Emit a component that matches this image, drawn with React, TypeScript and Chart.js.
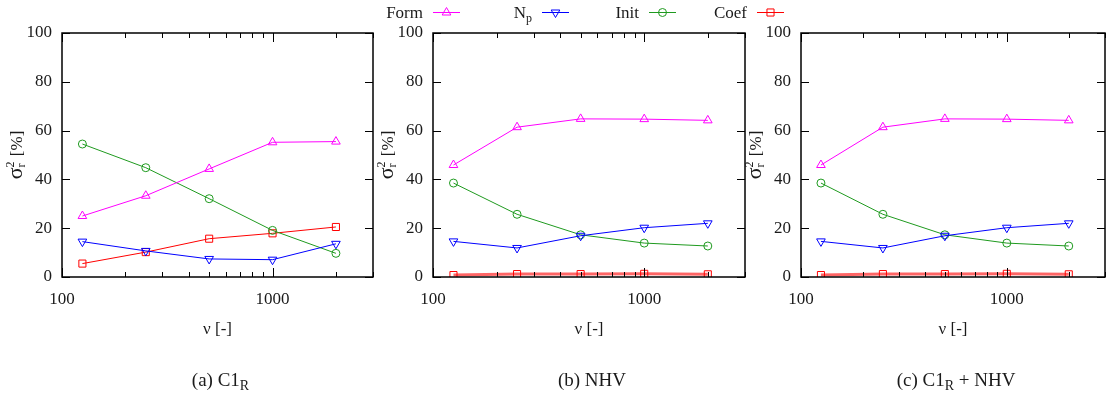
import React, { useEffect, useRef } from 'react';
import { Chart, registerables } from 'chart.js';
import { drawPoint } from 'chart.js/helpers';
Chart.register(...registerables);

// ---------- data ----------
const nuValues = [125, 250, 500, 1000, 2000];

const formA = [25.0, 33.3, 44.3, 55.2, 55.5];
const npA = [14.5, 10.7, 7.4, 7.1, 13.6];
const initA = [54.5, 44.8, 32.1, 19.1, 9.7];
const coefA = [5.5, 10.2, 15.7, 17.9, 20.5];

const formB = [45.9, 61.4, 64.8, 64.7, 64.2];
const npB = [14.6, 11.9, 16.9, 20.2, 22.0];
const initB = [38.5, 25.7, 17.3, 13.9, 12.7];
const coefB = [0.8, 1.2, 1.2, 1.3, 1.1];

const formC = [45.9, 61.4, 64.8, 64.7, 64.2];
const npC = [14.6, 11.9, 16.9, 20.2, 22.0];
const initC = [38.5, 25.7, 17.3, 13.9, 12.7];
const coefC = [0.8, 1.2, 1.2, 1.3, 1.1];

const seriesNames = ['Form', 'N', 'Init', 'Coef'];
const seriesSubs = ['', 'p', '', ''];
const xMajorTicks = [100, 1000];
const xMinorTicks = [200, 300, 400, 500, 600, 700, 800, 900, 2000, 3000];
const yTickValues = [0, 20, 40, 60, 80, 100];
const xMin = 100;
const xMax = 3000;
const captionMain = ['(a) C1', '(b) NHV', '(c) C1'];
const captionSub = ['R', '', 'R'];
const captionTail = ['', '', ' + NHV'];

// ---------- styles ----------
const FONT = "'Liberation Serif', 'DejaVu Serif', serif";
const TXT = '#1a1a1a';
const styles = [
  { color: '#ff00ff', pointStyle: 'triangle', rotation: 0, radius: 5 },
  { color: '#0000ff', pointStyle: 'triangle', rotation: 180, radius: 5 },
  { color: '#1f9a1f', pointStyle: 'circle', rotation: 0, radius: 4 },
  { color: '#ff0000', pointStyle: 'rect', rotation: 0, radius: 5 },
];

type Seg = { t: string; size: number; dy: number };
function drawRich(ctx: CanvasRenderingContext2D, segs: Seg[], x: number, y: number, align: 'center' | 'right' | 'left') {
  let total = 0;
  const widths = segs.map((s) => {
    ctx.font = `${s.size}px ${FONT}`;
    const w = ctx.measureText(s.t).width;
    total += w;
    return w;
  });
  let cx = align === 'center' ? x - total / 2 : align === 'right' ? x - total : x;
  ctx.textAlign = 'left';
  segs.forEach((s, i) => {
    ctx.font = `${s.size}px ${FONT}`;
    ctx.fillText(s.t, cx, y + s.dy);
    cx += widths[i];
  });
}

const decorPlugin = {
  id: 'decor',
  afterDraw(chart: any, _args: any, opts: any) {
    const { ctx, chartArea: a, scales } = chart;
    const xs = scales.x;
    const ys = scales.y;
    ctx.save();
    ctx.strokeStyle = '#000';
    ctx.lineWidth = 1;
    ctx.beginPath();
    for (const v of yTickValues) {
      const y = Math.round(ys.getPixelForValue(v)) + 0.5;
      ctx.moveTo(a.left, y);
      ctx.lineTo(a.left + 8, y);
      ctx.moveTo(a.right, y);
      ctx.lineTo(a.right - 8, y);
    }
    for (const v of xMajorTicks) {
      const x = Math.round(xs.getPixelForValue(v)) + 0.5;
      ctx.moveTo(x, a.bottom);
      ctx.lineTo(x, a.bottom - 9);
      ctx.moveTo(x, a.top);
      ctx.lineTo(x, a.top + 9);
    }
    for (const v of xMinorTicks) {
      const x = Math.round(xs.getPixelForValue(v)) + 0.5;
      ctx.moveTo(x, a.bottom);
      ctx.lineTo(x, a.bottom - 5);
      ctx.moveTo(x, a.top);
      ctx.lineTo(x, a.top + 5);
    }
    ctx.stroke();
    ctx.lineWidth = 1.5;
    ctx.strokeRect(a.left, a.top, a.right - a.left, a.bottom - a.top);

    ctx.fillStyle = TXT;
    ctx.textBaseline = 'alphabetic';
    // y title (rotated)
    ctx.save();
    ctx.translate(a.left - 40, (a.top + a.bottom) / 2);
    ctx.rotate(-Math.PI / 2);
    ctx.font = `22px ${FONT}`;
    const wSig = ctx.measureText('σ').width;
    ctx.font = `17px ${FONT}`;
    const wBr = ctx.measureText(' [%]').width;
    ctx.font = `12px ${FONT}`;
    const wSc = ctx.measureText('2').width;
    const total = wSig + wSc + 1 + wBr;
    let px = -total / 2;
    ctx.textAlign = 'left';
    ctx.font = `22px ${FONT}`;
    ctx.fillText('σ', px, 0);
    px += wSig;
    ctx.font = `12px ${FONT}`;
    ctx.fillText('2', px, -8);
    ctx.fillText('r', px, 3);
    px += wSc + 1;
    ctx.font = `17px ${FONT}`;
    ctx.fillText(' [%]', px, 0);
    ctx.restore();

    // x title
    ctx.textBaseline = 'middle';
    ctx.textAlign = 'center';
    ctx.font = `17px ${FONT}`;
    ctx.fillText('ν [-]', (a.left + a.right) / 2, 330);

    // caption
    ctx.textBaseline = 'alphabetic';
    const i = opts.panel;
    const segs: Seg[] = [{ t: captionMain[i], size: 19, dy: 0 }];
    if (captionSub[i]) segs.push({ t: captionSub[i], size: 14, dy: 4 });
    if (captionTail[i]) segs.push({ t: captionTail[i], size: 19, dy: 0 });
    drawRich(ctx, segs, (a.left + a.right) / 2 + 3, 386, 'center');

    // legend
    if (opts.legend) {
      const sampleStarts = [433, 542, 649, 757];
      const ly = 12.5;
      sampleStarts.forEach((sx, k) => {
        ctx.fillStyle = TXT;
        ctx.textBaseline = 'middle';
        const lsegs: Seg[] = [{ t: seriesNames[k], size: 17, dy: 1 }];
        if (seriesSubs[k]) lsegs.push({ t: seriesSubs[k], size: 12, dy: 6 });
        drawRich(ctx, lsegs, sx - 10, ly, 'right');
        const st = styles[k];
        ctx.strokeStyle = st.color;
        ctx.lineWidth = 1;
        ctx.beginPath();
        ctx.moveTo(sx, ly);
        ctx.lineTo(sx + 27, ly);
        ctx.stroke();
        ctx.fillStyle = 'rgba(0,0,0,0)';
        drawPoint(ctx, { pointStyle: st.pointStyle, rotation: st.rotation, radius: st.radius, borderWidth: 1 } as any, sx + 13.5, ly);
      });
    }
    ctx.restore();
  },
};

function makeConfig(panel: number, series: number[][], padLeft: number, padRight: number, thickCoef: boolean) {
  const datasets = series.map((vals, k) => {
    const st = styles[k];
    const isCoefThick = thickCoef && k === 3;
    return {
      label: seriesNames[k] + seriesSubs[k],
      data: nuValues.map((x, j) => ({ x, y: vals[j] })),
      borderColor: isCoefThick ? 'rgba(255,0,0,0.6)' : st.color,
      borderWidth: isCoefThick ? 3 : 1,
      pointStyle: st.pointStyle,
      rotation: st.rotation,
      pointRadius: st.radius,
      pointBorderColor: st.color,
      pointBackgroundColor: 'rgba(0,0,0,0)',
      pointBorderWidth: 1,
      tension: 0,
      fill: false,
    };
  });
  return {
    type: 'line',
    data: { datasets },
    plugins: [decorPlugin],
    options: {
      animation: false,
      responsive: false,
      events: [],
      layout: { padding: { left: padLeft, right: padRight, top: 33, bottom: 0 } },
      plugins: {
        legend: { display: false },
        tooltip: { enabled: false },
        decor: { panel, legend: panel === 1 },
      },
      scales: {
        x: {
          type: 'logarithmic',
          min: xMin,
          max: xMax,
          grid: { display: false, drawTicks: false },
          border: { display: false },
          afterBuildTicks: (s: any) => {
            s.ticks = xMajorTicks.map((v) => ({ value: v, major: true }));
          },
          afterFit: (s: any) => {
            s.height = 123;
          },
          ticks: {
            autoSkip: false,
            maxRotation: 0,
            padding: 12,
            color: TXT,
            font: { family: FONT, size: 17 },
            callback: (v: any) => String(v),
          },
        },
        y: {
          type: 'linear',
          min: 0,
          max: 100,
          grid: { display: false, drawTicks: false },
          border: { display: false },
          afterBuildTicks: (s: any) => {
            s.ticks = yTickValues.map((v) => ({ value: v }));
          },
          afterFit: (s: any) => {
            s.width = 62;
          },
          ticks: {
            padding: 10,
            color: TXT,
            font: { family: FONT, size: 17 },
            callback: (v: any) => String(v),
          },
        },
      },
    },
  } as any;
}

export default function App() {
  const r1 = useRef<HTMLCanvasElement>(null);
  const r2 = useRef<HTMLCanvasElement>(null);
  const r3 = useRef<HTMLCanvasElement>(null);
  useEffect(() => {
    const c1 = new Chart(r1.current!, makeConfig(0, [formA, npA, initA, coefA], 0, 1111 - 373, false));
    const c2 = new Chart(r2.current!, makeConfig(1, [formB, npB, initB, coefB], 433 - 62, 1111 - 745, true));
    const c3 = new Chart(r3.current!, makeConfig(2, [formC, npC, initC, coefC], 801 - 62, 1111 - 1110, true));
    return () => {
      c1.destroy();
      c2.destroy();
      c3.destroy();
    };
  }, []);
  const cs: React.CSSProperties = { position: 'absolute', left: 0, top: 0, width: 1111, height: 400 };
  return (
    <div style={{ position: 'absolute', left: 0, top: 0, width: 1111, height: 400, background: '#fff' }}>
      <canvas ref={r1} width={1111} height={400} style={cs} />
      <canvas ref={r2} width={1111} height={400} style={cs} />
      <canvas ref={r3} width={1111} height={400} style={cs} />
    </div>
  );
}
